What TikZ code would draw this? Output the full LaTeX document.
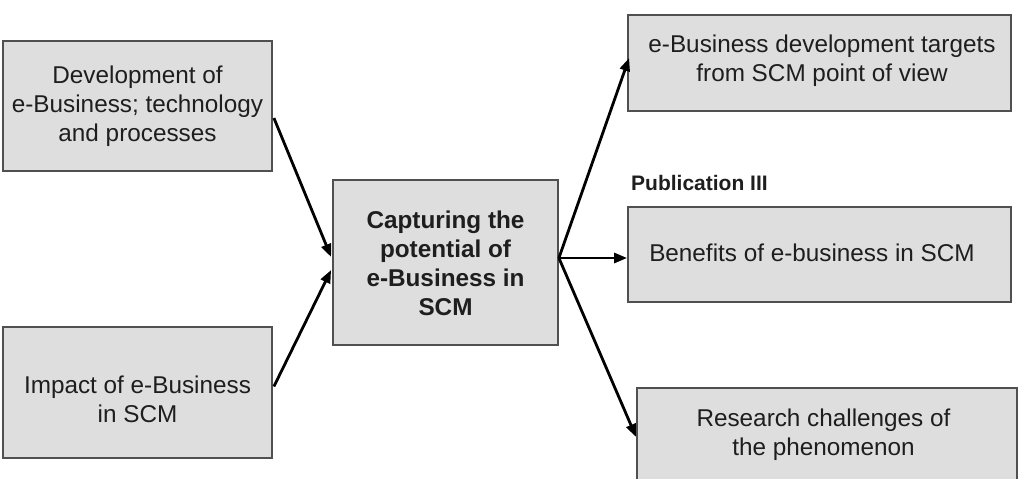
\documentclass[tikz,border=0pt]{standalone}
\usepackage{fontspec}
\setmainfont{Liberation Sans}
\usetikzlibrary{arrows.meta,calc}
\definecolor{boxfill}{HTML}{DEDEDE}
\definecolor{boxline}{HTML}{505050}
\definecolor{txt}{HTML}{1E1E1E}
\begin{document}
\begin{tikzpicture}[x=1pt,y=-1pt,
  box/.style={draw=boxline,fill=boxfill,line width=1.8pt,rectangle,inner sep=0pt},
  lbl/.style={text=txt,align=center,inner sep=0pt,font=\fontsize{24.3}{29}\selectfont},
  blbl/.style={lbl,font=\fontsize{24.3}{29}\selectfont\bfseries},
  conn/.style={line width=2.8pt,-{Triangle[length=13pt,width=10pt]}}]
\useasboundingbox (0,0) rectangle (1026,479);
% boxes
\node[box,minimum width=269,minimum height=130] (a) at (137.5,106) {};
\node[box,minimum width=269,minimum height=131] (b) at (137.5,392.5) {};
\node[box,minimum width=225,minimum height=165] (c) at (445.5,262.5) {};
\node[box,minimum width=383,minimum height=96] (d) at (819.5,63) {};
\node[box,minimum width=383,minimum height=95] (e) at (819.5,254.5) {};
\node[box,minimum width=380,minimum height=94] (f) at (827,435) {};
% texts
\node[lbl] (ta) at (137.5,106) {Development of\\e-Business; technology\\and processes};
\node[lbl] (tb) at (137.5,399) {Impact of e-Business\\in SCM};
\node[blbl] (tc) at (445.5,263.5) {Capturing the\\potential of\\e-Business in\\SCM};
\node[lbl] (td) at (822,60.5) {e-Business development targets\\from SCM point of view};
\node[lbl] (te) at (812,253) {Benefits of e-business in SCM};
\node[lbl] (tf) at (823.5,435) {Research challenges of\\the phenomenon};
\node[text=txt,inner sep=0pt,anchor=west,font=\fontsize{21}{25}\selectfont\bfseries] (pub) at (631,183) {Publication III};
% connectors
\draw[conn] ($(a.east)+(1,12)$) -- ($(c.west)+(-1,-5.5)$);
\draw[conn] ($(b.east)+(1,-6)$) -- ($(c.west)+(-1,7.5)$);
\draw[conn] ($(c.east)+(0,-4.5)$) -- ($(d.west)+(2,-5)$);
\draw[conn] ($(c.east)+(0,-4.5)$) -- ($(e.west)+(0,3.5)$);
\draw[conn] ($(c.east)+(0,-4.5)$) -- ($(f.west)+(0,2)$);
\end{tikzpicture}
\end{document}
